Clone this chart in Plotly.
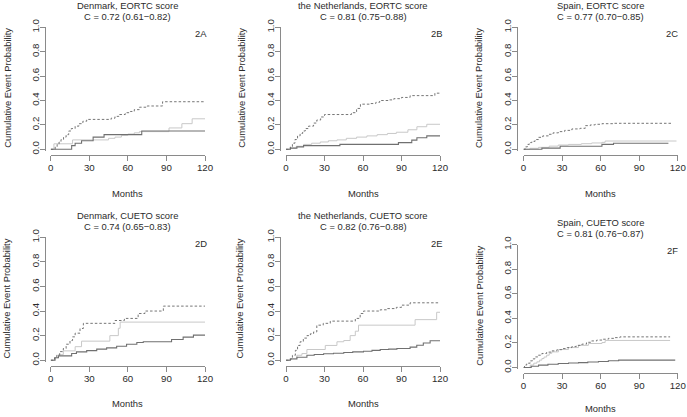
import plotly.graph_objects as go

W, H = 687, 417
FONT = "Liberation Sans, Arial, sans-serif"

# ---------------- data (months, cumulative event probability) ----------------
# Panel 2A  Denmark, EORTC
a_high_t = [0, 3.5, 5, 6.5, 8, 10, 12, 14, 16, 19, 22, 25, 28, 47, 50, 53, 58, 62, 65, 69, 75, 87, 120]
a_high_p = [0, 0.02, 0.04, 0.06, 0.08, 0.10, 0.12, 0.15, 0.17, 0.19, 0.21, 0.23, 0.245, 0.255, 0.27, 0.285, 0.30, 0.31, 0.325, 0.345, 0.355, 0.39, 0.39]
a_mid_t = [0, 2.5, 17, 45, 50, 55, 60, 65, 69, 92, 102, 110, 120]
a_mid_p = [0, 0.045, 0.077, 0.09, 0.10, 0.115, 0.125, 0.135, 0.145, 0.175, 0.21, 0.25, 0.25]
a_low_t = [0, 16.3, 19, 24, 33, 41.5, 70.8, 120]
a_low_p = [0, 0.03, 0.05, 0.07, 0.10, 0.12, 0.15, 0.15]

# Panel 2B  the Netherlands, EORTC
b_high_t = [0, 3.4, 5, 7, 9, 11, 13, 15, 17.6, 21.5, 24, 27, 30, 51, 55, 58, 66, 70, 73, 80, 84, 90, 96.7, 116, 120]
b_high_p = [0, 0.02, 0.05, 0.08, 0.11, 0.13, 0.15, 0.17, 0.19, 0.215, 0.24, 0.265, 0.285, 0.30, 0.335, 0.37, 0.375, 0.385, 0.40, 0.405, 0.415, 0.425, 0.44, 0.46, 0.46]
b_mid_t = [0, 3.4, 8, 13.7, 20, 26.7, 33, 39.7, 47, 55, 63, 71, 79, 86, 95, 102, 109.7, 120]
b_mid_p = [0, 0.01, 0.025, 0.04, 0.05, 0.06, 0.07, 0.077, 0.09, 0.10, 0.11, 0.12, 0.13, 0.14, 0.16, 0.185, 0.205, 0.205]
b_low_t = [0, 3.4, 8.5, 13.7, 42, 87.6, 98, 102, 109.7, 120]
b_low_p = [0, 0.01, 0.02, 0.03, 0.04, 0.055, 0.075, 0.095, 0.11, 0.11]

# Panel 2C  Spain, EORTC
c_high_t = [0, 1.3, 3, 4.5, 6.5, 9, 11.7, 15, 19.4, 23, 27.2, 32, 37.6, 44, 48, 52, 55.7, 61, 70, 114.8]
c_high_p = [0, 0.02, 0.04, 0.055, 0.065, 0.08, 0.098, 0.11, 0.123, 0.135, 0.145, 0.155, 0.167, 0.172, 0.194, 0.20, 0.205, 0.21, 0.213, 0.213]
c_mid_t = [0, 5, 11.7, 20, 27, 35, 45, 53, 61, 63.5, 119]
c_mid_p = [0, 0.008, 0.016, 0.026, 0.035, 0.04, 0.046, 0.052, 0.057, 0.068, 0.068]
c_low_t = [0, 14.3, 28.5, 61, 70, 112.7]
c_low_p = [0, 0.01, 0.025, 0.04, 0.05, 0.05]

# Panel 2D  Denmark, CUETO
d_high_t = [0, 3, 4.7, 7, 9.8, 12, 15, 17, 19, 22.8, 25.4, 50, 57.3, 68, 73.3, 87.6, 120]
d_high_p = [0, 0.02, 0.04, 0.07, 0.095, 0.13, 0.16, 0.19, 0.22, 0.258, 0.30, 0.323, 0.34, 0.38, 0.40, 0.44, 0.44]
d_mid_t = [0, 3, 6, 9.8, 19, 24, 46, 52.6, 54, 120]
d_mid_p = [0, 0.02, 0.045, 0.076, 0.11, 0.155, 0.20, 0.26, 0.31, 0.31]
d_low_t = [0, 3.4, 6, 16.3, 20, 28, 35.8, 43.5, 51.3, 59, 67, 72, 94, 103, 111, 120]
d_low_p = [0, 0.02, 0.035, 0.054, 0.068, 0.078, 0.09, 0.10, 0.114, 0.13, 0.144, 0.15, 0.168, 0.188, 0.204, 0.204]

# Panel 2E  the Netherlands, CUETO
e_high_t = [0, 3.4, 5, 7.3, 9, 11, 13.5, 16.3, 19, 21.5, 24, 29, 34.5, 54, 57.8, 60.4, 73.4, 78.5, 86, 90, 96.7, 120]
e_high_p = [0, 0.01, 0.04, 0.08, 0.12, 0.15, 0.18, 0.20, 0.215, 0.23, 0.285, 0.30, 0.318, 0.34, 0.38, 0.40, 0.41, 0.42, 0.43, 0.448, 0.467, 0.467]
e_mid_t = [0, 3.4, 8.5, 12.4, 16.3, 30.6, 39.7, 45, 50, 54, 56.5, 100.6, 117.4, 120]
e_mid_p = [0, 0.013, 0.04, 0.054, 0.087, 0.12, 0.15, 0.16, 0.20, 0.236, 0.285, 0.33, 0.39, 0.39]
e_low_t = [0, 3.4, 8.5, 16.3, 22, 29.3, 37, 45, 52, 60.4, 67, 73.4, 80, 86.4, 96.7, 101.9, 107, 112.3, 120]
e_low_p = [0, 0.01, 0.024, 0.04, 0.046, 0.052, 0.057, 0.063, 0.068, 0.073, 0.08, 0.087, 0.09, 0.095, 0.106, 0.122, 0.14, 0.158, 0.158]

# Panel 2F  Spain, CUETO
f_high_t = [0, 0.8, 2.5, 5.2, 7, 9, 11.5, 14.3, 18, 22, 26, 29.8, 34, 37.6, 41, 45.4, 49, 53, 57, 61, 66, 71, 75, 114]
f_high_p = [0, 0.02, 0.035, 0.054, 0.07, 0.086, 0.10, 0.114, 0.125, 0.135, 0.145, 0.154, 0.162, 0.17, 0.18, 0.19, 0.205, 0.216, 0.223, 0.23, 0.237, 0.243, 0.249, 0.249]
f_mid_t = [0, 5.2, 8, 10.4, 12.5, 14.3, 16, 18, 20, 22, 27.2, 35, 42.8, 50.5, 61, 63.5, 114]
f_mid_p = [0, 0.02, 0.035, 0.046, 0.06, 0.073, 0.085, 0.10, 0.115, 0.127, 0.146, 0.162, 0.18, 0.195, 0.203, 0.22, 0.22]
f_low_t = [0, 6, 11.7, 19, 27, 35, 42.8, 50, 58.3, 66, 74, 118]
f_low_p = [0, 0.01, 0.019, 0.026, 0.032, 0.036, 0.04, 0.045, 0.049, 0.055, 0.06, 0.06]

titles_1 = ["Denmark, EORTC score", "the Netherlands, EORTC score", "Spain, EORTC score",
            "Denmark, CUETO score", "the Netherlands, CUETO score", "Spain, CUETO score"]
titles_2 = ["C = 0.72 (0.61\u22120.82)", "C = 0.81 (0.75\u22120.88)", "C = 0.77 (0.70\u22120.85)",
            "C = 0.74 (0.65\u22120.83)", "C = 0.82 (0.76\u22120.88)", "C = 0.81 (0.76\u22120.87)"]
panel_labels = ["2A", "2B", "2C", "2D", "2E", "2F"]
x_ticks = [0, 30, 60, 90, 120]
y_ticks = [0, 0.2, 0.4, 0.6, 0.8, 1.0]
y_ticktext = ["0.0", "0.2", "0.4", "0.6", "0.8", "1.0"]
x_title = "Months"
y_title = "Cumulative Event Probability"

series = [
    (a_high_t, a_high_p, a_mid_t, a_mid_p, a_low_t, a_low_p),
    (b_high_t, b_high_p, b_mid_t, b_mid_p, b_low_t, b_low_p),
    (c_high_t, c_high_p, c_mid_t, c_mid_p, c_low_t, c_low_p),
    (d_high_t, d_high_p, d_mid_t, d_mid_p, d_low_t, d_low_p),
    (e_high_t, e_high_p, e_mid_t, e_mid_p, e_low_t, e_low_p),
    (f_high_t, f_high_p, f_mid_t, f_mid_p, f_low_t, f_low_p),
]

# ---------------- layout geometry (pixels) ----------------
# x-pixel of month 0, of month 120, y-pixel of prob 0, of prob 1
geo = [
    (50.7, 205.0, 149.3, 27.3),
    (286.0, 440.0, 149.3, 27.3),
    (523.5, 677.8, 149.3, 27.3),
    (50.7, 205.0, 360.2, 237.3),
    (286.0, 440.0, 360.2, 237.3),
    (523.5, 677.8, 367.5, 244.5),
]
title_y = [(5.5, 16.5)] * 3 + [(215.5, 226.5), (215.5, 226.5), (222.0, 233.5)]
months_y = [193.5, 193.5, 193.5, 403.7, 403.7, 408.7]
ylab_x = [7.5, 241.5, 478.7, 6.7, 239.7, 478.7]
lab_x = [117, 117, 115.5, 117, 117, 115.5]

AXC = "#8a8a8a"
TXT = "#2b2b2b"
C_HIGH = "#666666"
C_MID = "#c8c8c8"
C_LOW = "#707070"
FS_TXT = 9.4
FS_TICK = 9.7


def fx(p):
    return p / W


def fy(p):
    return 1 - p / H


fig = go.Figure()
annotations = []
YMIN = -0.012

for i in range(6):
    k = "" if i == 0 else str(i + 1)
    xa, ya = "x" + k, "y" + k
    x0, x1, y0, y1 = geo[i]
    sy = (y0 - y1)  # px per unit prob
    sx = (x1 - x0) / 120.0
    ht, hp, mt, mp, lt, lp = series[i]
    fig.add_trace(go.Scatter(x=mt, y=mp, mode="lines", line=dict(color=C_MID, width=1, shape="hv"),
                             xaxis=xa, yaxis=ya, showlegend=False, hoverinfo="skip"))
    fig.add_trace(go.Scatter(x=lt, y=lp, mode="lines", line=dict(color=C_LOW, width=1.1, shape="hv"),
                             xaxis=xa, yaxis=ya, showlegend=False, hoverinfo="skip"))
    fig.add_trace(go.Scatter(x=ht, y=hp, mode="lines", line=dict(color=C_HIGH, width=0.9, shape="hv", dash="2.5px,2px"),
                             xaxis=xa, yaxis=ya, showlegend=False, hoverinfo="skip"))

    xaxis_line_y = y0 + 0.04 * sy + 0.4
    yaxis_line_x = x0 - 4.8 * sx
    fig.layout["xaxis" + k] = dict(
        domain=[fx(x0), fx(x1)], range=[0, 120], anchor="free", position=fy(xaxis_line_y),
        showline=True, linecolor=AXC, linewidth=1, ticks="outside", ticklen=5, tickwidth=1,
        tickcolor=AXC, tickvals=x_ticks, showgrid=False, zeroline=False, ticklabelstandoff=-1,
        automargin=False, tickfont=dict(family=FONT, size=FS_TICK, color=TXT), fixedrange=True)
    fig.layout["yaxis" + k] = dict(
        domain=[fy(y0 - YMIN * sy), fy(y1)], range=[YMIN, 1.0], anchor="free", position=fx(yaxis_line_x),
        showline=True, linecolor=AXC, linewidth=1, ticks="outside", ticklen=5, tickwidth=1,
        tickcolor=AXC, tickvals=y_ticks, ticktext=y_ticktext, tickangle=-90, showgrid=False,
        zeroline=False, ticklabelstandoff=-3, automargin=False,
        tickfont=dict(family=FONT, size=FS_TICK, color=TXT), fixedrange=True)

    cx = (x0 + x1) / 2
    annotations.append(dict(text=titles_1[i], x=fx(cx), y=fy(title_y[i][0]), xref="paper", yref="paper",
                            showarrow=False, xanchor="center", yanchor="middle",
                            font=dict(family=FONT, size=FS_TXT, color=TXT)))
    annotations.append(dict(text=titles_2[i], x=fx(cx), y=fy(title_y[i][1]), xref="paper", yref="paper",
                            showarrow=False, xanchor="center", yanchor="middle",
                            font=dict(family=FONT, size=FS_TXT, color=TXT)))
    annotations.append(dict(text=x_title, x=fx(cx), y=fy(months_y[i]), xref="paper", yref="paper",
                            showarrow=False, xanchor="center", yanchor="middle",
                            font=dict(family=FONT, size=FS_TXT, color=TXT)))
    annotations.append(dict(text=y_title, x=fx(ylab_x[i]), y=fy((y0 + y1) / 2), xref="paper", yref="paper",
                            showarrow=False, xanchor="center", yanchor="middle", textangle=-90,
                            font=dict(family=FONT, size=FS_TXT, color=TXT)))
    annotations.append(dict(text=panel_labels[i], x=lab_x[i], y=0.95, xref=xa, yref=ya,
                            showarrow=False, xanchor="center", yanchor="middle",
                            font=dict(family=FONT, size=FS_TXT, color=TXT)))

fig.update_layout(template="none", width=W, height=H, autosize=False,
                  margin=dict(l=0, r=0, t=0, b=0, pad=0, autoexpand=False),
                  paper_bgcolor="white", plot_bgcolor="white", annotations=annotations,
                  font=dict(family=FONT, size=10, color=TXT))
fig.write_html("out.html", config={"displayModeBar": False, "staticPlot": True},
               post_script="document.body.style.margin='0';document.body.style.overflow='hidden';")
